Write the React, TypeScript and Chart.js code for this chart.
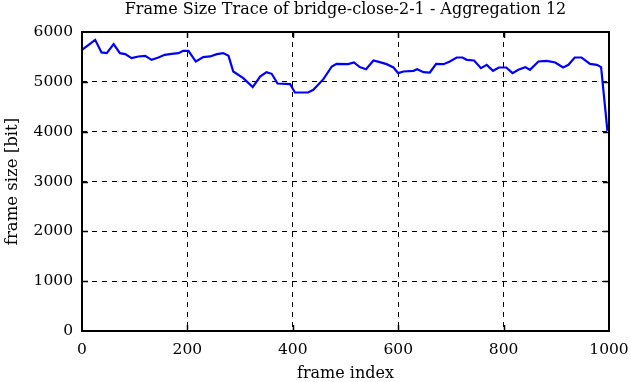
import React, { useEffect, useRef } from "react";
import { Chart, registerables } from "chart.js";

Chart.register(...registerables);

const TITLE = "Frame Size Trace of bridge-close-2-1 - Aggregation 12";
const X_LABEL = "frame index";
const Y_LABEL = "frame size [bit]";

const frames = [
  0, 25, 37, 47, 60, 72, 82, 94, 107, 120, 132, 145, 157, 170, 183, 192, 202,
  216, 230, 243, 256, 268, 278, 287, 306, 324, 338, 350, 360, 371, 395, 404,
  429, 439, 458, 474, 483, 505, 516, 527, 539, 553, 565, 578, 591, 600, 610,
  629, 636, 648, 660, 672, 686, 698, 711, 722, 730, 744, 757, 768, 780, 791,
  805, 817, 828, 841, 850, 866, 882, 898, 913, 923, 935, 948, 964, 977, 985,
  997,
];

const frameSizes = [
  5642, 5843, 5590, 5576, 5757, 5576, 5556, 5476, 5509, 5522, 5442, 5488, 5542,
  5562, 5576, 5622, 5622, 5408, 5496, 5509, 5556, 5576, 5522, 5207, 5074, 4893,
  5107, 5194, 5161, 4966, 4953, 4786, 4786, 4839, 5054, 5308, 5361, 5355, 5388,
  5295, 5254, 5428, 5395, 5355, 5288, 5174, 5207, 5221, 5254, 5194, 5187, 5361,
  5355, 5408, 5488, 5488, 5442, 5428, 5275, 5341, 5221, 5288, 5288, 5174, 5241,
  5295, 5241, 5408, 5422, 5388, 5288, 5341, 5488, 5488, 5361, 5341, 5295, 4016,
];

const X_MIN = 0;
const X_MAX = 1000;
const X_STEP = 200;
const Y_MIN = 0;
const Y_MAX = 6000;
const Y_STEP = 1000;

const FONT = "'DejaVu Serif', 'Liberation Serif', serif";

const framePlugin = {
  id: "gnuplotFrame",
  afterDraw(chart: any) {
    const { ctx, chartArea } = chart;
    const { left, right, top, bottom } = chartArea;
    const xs = chart.scales.x;
    const ys = chart.scales.y;
    ctx.save();
    ctx.strokeStyle = "#000";
    ctx.lineWidth = 2;
    ctx.setLineDash([]);
    ctx.strokeRect(left, top, right - left, bottom - top);
    ctx.lineWidth = 1.5;
    const tl = 6;
    ctx.beginPath();
    xs.ticks.forEach((t: any) => {
      if (t.value <= X_MIN || t.value >= X_MAX) return;
      const px = Math.round(xs.getPixelForValue(t.value)) + 0.5;
      ctx.moveTo(px, bottom);
      ctx.lineTo(px, bottom - tl);
      ctx.moveTo(px, top);
      ctx.lineTo(px, top + tl);
    });
    ys.ticks.forEach((t: any) => {
      if (t.value <= Y_MIN || t.value >= Y_MAX) return;
      const py = Math.round(ys.getPixelForValue(t.value)) + 0.5;
      ctx.moveTo(left, py);
      ctx.lineTo(left + tl, py);
      ctx.moveTo(right, py);
      ctx.lineTo(right - tl, py);
    });
    ctx.stroke();
    // chart title centred over the plot area
    ctx.fillStyle = "#000";
    ctx.font = `normal 16px ${FONT}`;
    ctx.textAlign = "center";
    ctx.textBaseline = "middle";
    ctx.fillText(TITLE, (left + right) / 2, 10);
    ctx.restore();
  },
};

export default function App() {
  const ref = useRef<HTMLCanvasElement | null>(null);

  useEffect(() => {
    document.body.style.margin = "0";
    if (!ref.current) return;
    const data = frames.map((f, i) => ({ x: f, y: frameSizes[i] }));
    const gridColor = (lo: number, hi: number) => (c: any) =>
      c.tick && (c.tick.value <= lo || c.tick.value >= hi) ? "rgba(0,0,0,0)" : "#000";
    const plain = (v: any) => String(v);
    const chart = new Chart(ref.current, {
      type: "line",
      data: {
        datasets: [
          {
            data,
            borderColor: "#0000ff",
            borderWidth: 2.2,
            pointRadius: 0,
            fill: false,
            tension: 0,
          },
        ],
      },
      options: {
        animation: false,
        responsive: false,
        events: [],
        layout: { padding: { left: 0, right: 22, top: 32, bottom: 0 } },
        plugins: {
          legend: { display: false },
          tooltip: { enabled: false },
          title: { display: false },
        },
        scales: {
          x: {
            type: "linear",
            min: X_MIN,
            max: X_MAX,
            afterFit: (s: any) => {
              s.height = 51;
              s.paddingLeft = 0;
              s.paddingRight = 0;
            },
            ticks: {
              stepSize: X_STEP,
              color: "#000",
              font: { family: FONT, size: 15.5 },
              padding: 10,
              maxRotation: 0,
              callback: plain,
            },
            grid: {
              color: gridColor(X_MIN, X_MAX),
              lineWidth: 1,
              drawTicks: false,
            },
            border: { display: false, dash: [5, 5] },
            title: {
              display: true,
              text: X_LABEL,
              color: "#000",
              font: { family: FONT, size: 16, lineHeight: 1 },
              padding: { top: 0, bottom: 0 },
            },
          },
          y: {
            type: "linear",
            min: Y_MIN,
            max: Y_MAX,
            afterFit: (s: any) => {
              s.width = 82;
              s.paddingTop = 0;
              s.paddingBottom = 0;
            },
            ticks: {
              stepSize: Y_STEP,
              color: "#000",
              font: { family: FONT, size: 15.5 },
              padding: 9,
              callback: plain,
            },
            grid: {
              color: gridColor(Y_MIN, Y_MAX),
              lineWidth: 1,
              drawTicks: false,
            },
            border: { display: false, dash: [5, 5] },
            title: {
              display: true,
              text: Y_LABEL,
              color: "#000",
              font: { family: FONT, size: 16.5, lineHeight: 1 },
              padding: { top: 4, bottom: 0 },
            },
          },
        },
      },
      plugins: [framePlugin],
    });
    return () => chart.destroy();
  }, []);

  return (
    <div style={{ width: 631, height: 382, background: "#fff" }}>
      <canvas ref={ref} width={631} height={382} style={{ display: "block" }} />
    </div>
  );
}
